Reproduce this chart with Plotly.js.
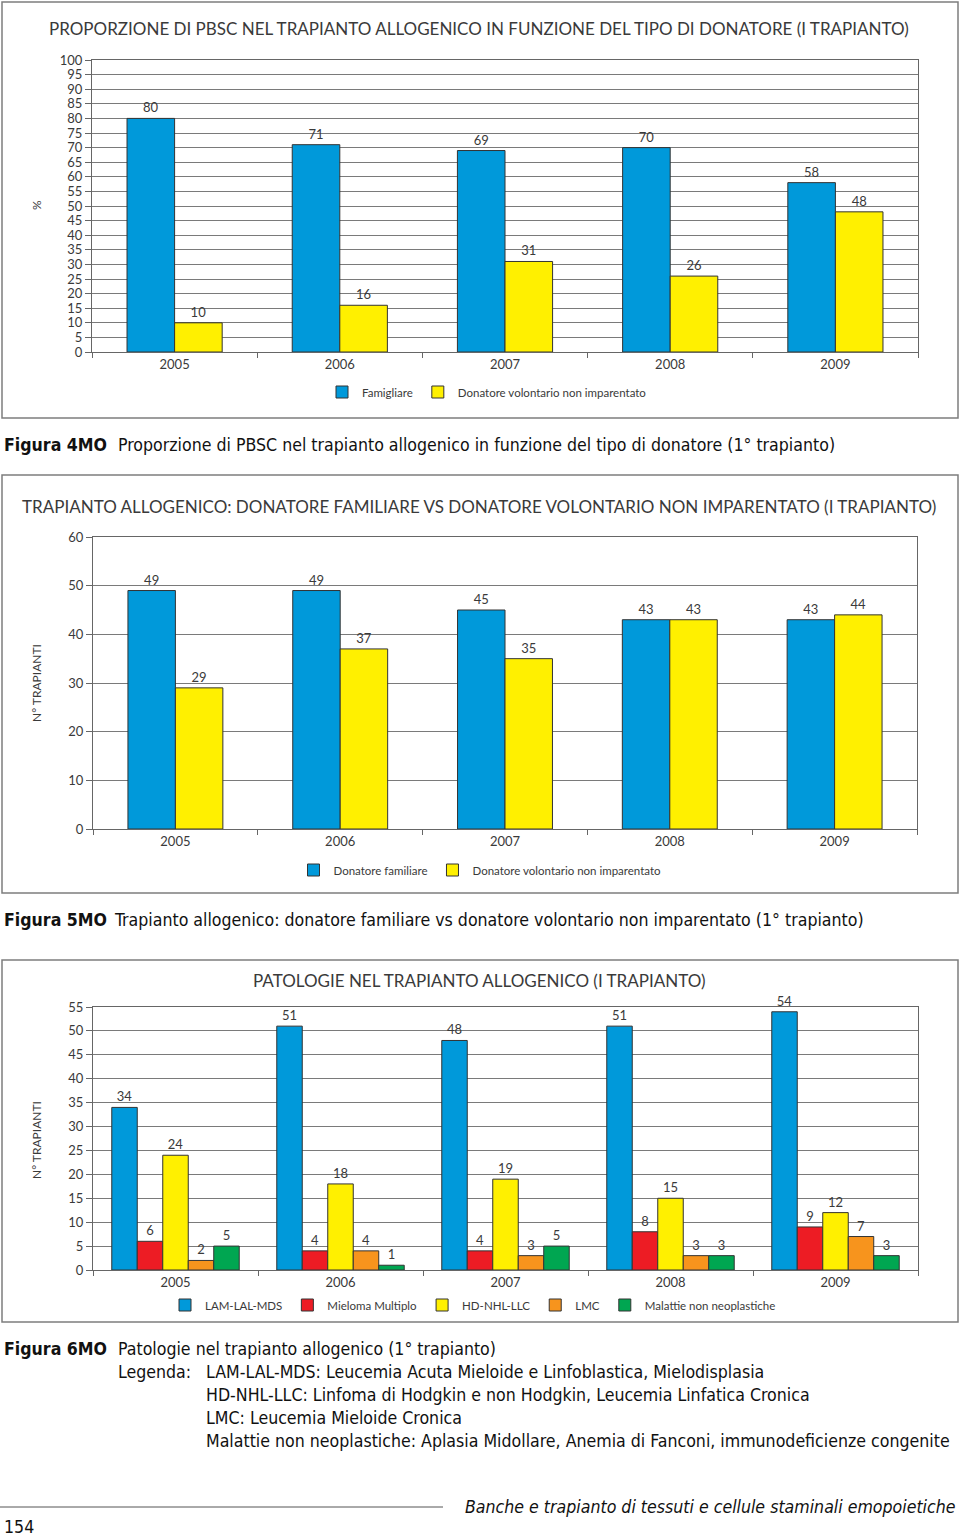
<!DOCTYPE html>
<html>
<head>
<meta charset="utf-8">
<script src="https://cdn.plot.ly/plotly-3.0.1.min.js"></script>
<style>
html,body{margin:0;padding:0;background:#fff;}
#chart{width:960px;height:1539px;}
</style>
</head>
<body>
<div id="chart"></div>
<script>
// ---------- DATA ----------
const years = ['2005', '2006', '2007', '2008', '2009'];

// Figura 4MO: proporzione di PBSC (%)
const fig4Famigliare = [80, 71, 69, 70, 58];
const fig4Volontario = [10, 16, 31, 26, 48];

// Figura 5MO: numero trapianti per tipo di donatore
const fig5Familiare = [49, 49, 45, 43, 43];
const fig5Volontario = [29, 37, 35, 43, 44];

// Figura 6MO: patologie
const fig6LAM = [34, 51, 48, 51, 54];
const fig6Mieloma = [6, 4, 4, 8, 9];
const fig6HD = [24, 18, 19, 15, 12];
const fig6LMC = [2, 4, 3, 3, 7];
const fig6NonNeo = [5, 1, 5, 3, 3];

const fig4Ticks = [0,5,10,15,20,25,30,35,40,45,50,55,60,65,70,75,80,85,90,95,100];
const fig5Ticks = [0,10,20,30,40,50,60];
const fig6Ticks = [0,5,10,15,20,25,30,35,40,45,50,55];

// ---------- HELPERS ----------
const W = 960, H = 1539;
const px = x => x / W;
const py = y => 1 - y / H;

const BLUE = '#0099DA', YELLOW = '#FFF000', RED = '#ED1C24', ORANGE = '#F7941D', GREEN = '#00A651';
const FONT = 'Lato, "Open Sans", sans-serif';
const CAPFONT = '"DejaVu Sans Condensed", "Liberation Sans Narrow", sans-serif';
const CAPSIZE = 17.6;
const TXT = '#3a3a3a';

// bar geometry (in category units)
const W2 = 0.288;   // 2-bar charts
const W5 = 0.1545;  // 5-bar chart

function barTrace(name, y, color, xa, ya, legend, width, offset) {
  return {
    type: 'bar', name: name, x: years, y: y,
    xaxis: xa, yaxis: ya, legend: legend,
    width: width, offset: offset,
    marker: {color: color, line: {color: '#333', width: 1}},
    text: y.map(String), textposition: 'outside', constraintext: 'none',
    textfont: {family: FONT, size: 13, color: TXT},
    cliponaxis: false,
    hoverinfo: 'x+y+name'
  };
}

const traces = [
  barTrace('Famigliare', fig4Famigliare, BLUE, 'x', 'y', 'legend', W2, -W2),
  barTrace('Donatore volontario non imparentato', fig4Volontario, YELLOW, 'x', 'y', 'legend', W2, 0),
  barTrace('Donatore familiare', fig5Familiare, BLUE, 'x2', 'y2', 'legend2', W2, -W2),
  barTrace('Donatore volontario non imparentato', fig5Volontario, YELLOW, 'x2', 'y2', 'legend2', W2, 0),
  barTrace('LAM-LAL-MDS', fig6LAM, BLUE, 'x3', 'y3', 'legend3', W5, -2.5 * W5),
  barTrace('Mieloma Multiplo', fig6Mieloma, RED, 'x3', 'y3', 'legend3', W5, -1.5 * W5),
  barTrace('HD-NHL-LLC', fig6HD, YELLOW, 'x3', 'y3', 'legend3', W5, -0.5 * W5),
  barTrace('LMC', fig6LMC, ORANGE, 'x3', 'y3', 'legend3', W5, 0.5 * W5),
  barTrace('Malattie non neoplastiche', fig6NonNeo, GREEN, 'x3', 'y3', 'legend3', W5, 1.5 * W5)
];

function xAxis(domain, anchor) {
  return {
    domain: domain, anchor: anchor, type: 'category',
    showline: true, linecolor: '#666', linewidth: 1, mirror: true,
    ticks: 'outside', tickson: 'boundaries', ticklen: 5, tickcolor: '#666',
    showgrid: false, zeroline: false,
    tickfont: {family: FONT, size: 13, color: TXT}, fixedrange: true
  };
}
function yAxis(domain, anchor, range, ticks) {
  return {
    domain: domain, anchor: anchor, range: range,
    tickvals: ticks, ticktext: ticks.map(String),
    showline: true, linecolor: '#666', linewidth: 1, mirror: true,
    ticks: 'outside', ticklen: 6, tickcolor: '#666',
    showgrid: true, gridcolor: '#7a7a7a', gridwidth: 1, zeroline: false,
    tickfont: {family: FONT, size: 13, color: TXT}, fixedrange: true
  };
}

function legendBox(xc, yc) {
  return {
    orientation: 'h', x: px(xc), y: py(yc), xanchor: 'center', yanchor: 'middle',
    font: {family: FONT, size: 11.5, color: TXT}, bgcolor: 'rgba(0,0,0,0)',
    itemclick: false, itemdoubleclick: false, tracegroupgap: 0
  };
}

function ann(text, x, y, opts) {
  return Object.assign({
    text: text, x: px(x), y: py(y), xref: 'paper', yref: 'paper',
    xanchor: 'left', yanchor: 'middle', showarrow: false,
    font: {family: FONT, size: 17, color: TXT}
  }, opts || {});
}
const capFont = {family: CAPFONT, size: CAPSIZE, color: '#111'};

const annotations = [
  // chart titles
  ann('PROPORZIONE DI PBSC NEL TRAPIANTO ALLOGENICO IN FUNZIONE DEL TIPO DI DONATORE (I TRAPIANTO)', 479, 28, {xanchor: 'center'}),
  ann('TRAPIANTO ALLOGENICO: DONATORE FAMILIARE VS DONATORE VOLONTARIO NON IMPARENTATO (I TRAPIANTO)', 479, 506, {xanchor: 'center'}),
  ann('PATOLOGIE NEL TRAPIANTO ALLOGENICO (I TRAPIANTO)', 479, 980, {xanchor: 'center'}),
  // y titles
  ann('%', 37, 205, {xanchor: 'center', textangle: -90, font: {family: FONT, size: 12, color: TXT}}),
  ann('N° TRAPIANTI', 36, 683, {xanchor: 'center', textangle: -90, font: {family: FONT, size: 12, color: TXT}}),
  ann('N° TRAPIANTI', 36, 1140, {xanchor: 'center', textangle: -90, font: {family: FONT, size: 12, color: TXT}}),
  // captions
  ann('<b>Figura 4MO</b>', 2, 445, {font: capFont}),
  ann('Proporzione di PBSC nel trapianto allogenico in funzione del tipo di donatore (1° trapianto)', 116, 445, {font: capFont}),
  ann('<b>Figura 5MO</b>', 2, 920, {font: capFont}),
  ann('Trapianto allogenico: donatore familiare vs donatore volontario non imparentato (1° trapianto)', 112, 920, {font: capFont}),
  ann('<b>Figura 6MO</b>', 2, 1349, {font: capFont}),
  ann('Patologie nel trapianto allogenico (1° trapianto)', 116, 1349, {font: capFont}),
  ann('Legenda:', 116, 1372, {font: capFont}),
  ann('LAM-LAL-MDS: Leucemia Acuta Mieloide e Linfoblastica, Mielodisplasia', 204, 1372, {font: capFont}),
  ann('HD-NHL-LLC: Linfoma di Hodgkin e non Hodgkin, Leucemia Linfatica Cronica', 204, 1395, {font: capFont}),
  ann('LMC: Leucemia Mieloide Cronica', 204, 1418, {font: capFont}),
  ann('Malattie non neoplastiche: Aplasia Midollare, Anemia di Fanconi, immunodeficienze congenite', 204, 1441, {font: capFont}),
  // footer
  ann('<i>Banche e trapianto di tessuti e cellule staminali emopoietiche</i>', 958, 1507, {xanchor: 'right', font: capFont}),
  ann('154', 2, 1527, {font: capFont})
];

const border = {color: '#7d7d7d', width: 1.5};
const shapes = [
  {type: 'rect', xref: 'paper', yref: 'paper', x0: px(2), x1: px(958), y0: py(2), y1: py(418), line: border},
  {type: 'rect', xref: 'paper', yref: 'paper', x0: px(2), x1: px(958), y0: py(475), y1: py(893), line: border},
  {type: 'rect', xref: 'paper', yref: 'paper', x0: px(2), x1: px(958), y0: py(960), y1: py(1322), line: border},
  {type: 'line', xref: 'paper', yref: 'paper', x0: px(0), x1: px(443), y0: py(1507), y1: py(1507), line: {color: '#555', width: 1}}
];

const layout = {
  width: W, height: H,
  margin: {l: 0, r: 0, t: 0, b: 0},
  paper_bgcolor: '#fff', plot_bgcolor: '#fff',
  barmode: 'group',
  showlegend: true,
  xaxis: xAxis([px(92), px(918)], 'y'),
  yaxis: yAxis([py(352), py(60)], 'x', [0, 100], fig4Ticks),
  xaxis2: xAxis([px(93), px(917)], 'y2'),
  yaxis2: yAxis([py(829), py(537)], 'x2', [0, 60], fig5Ticks),
  xaxis3: xAxis([px(93), px(918)], 'y3'),
  yaxis3: yAxis([py(1270), py(1007)], 'x3', [0, 55], fig6Ticks),
  legend: legendBox(487, 392),
  legend2: legendBox(480, 870),
  legend3: legendBox(473, 1305),
  annotations: annotations,
  shapes: shapes
};

Plotly.newPlot('chart', traces, layout, {displayModeBar: false, responsive: false});
</script>
</body>
</html>
